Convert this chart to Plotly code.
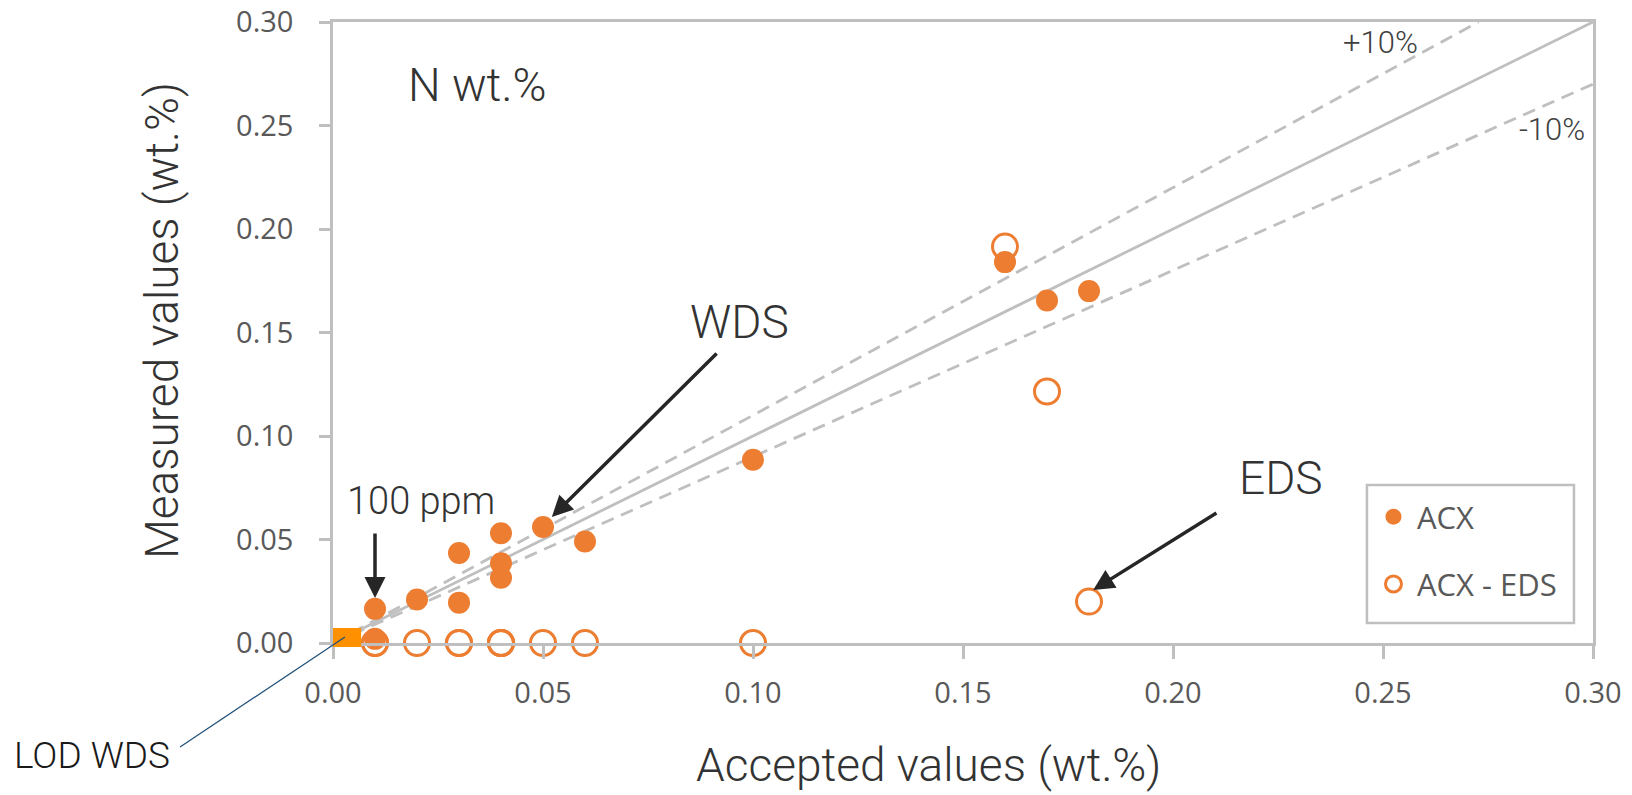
import plotly.graph_objects as go

# Nitrogen: accepted vs measured concentrations (wt.%)
acx_accepted = [0.01, 0.01, 0.02, 0.03, 0.03, 0.04, 0.04, 0.04, 0.05, 0.06, 0.10, 0.16, 0.17, 0.18]
acx_measured = [0.0165, 0.002, 0.021, 0.0435, 0.0195, 0.053, 0.0385, 0.0315, 0.056, 0.049, 0.0885, 0.184, 0.1655, 0.170]

eds_accepted = [0.01, 0.01, 0.02, 0.03, 0.03, 0.04, 0.04, 0.04, 0.05, 0.06, 0.10, 0.16, 0.17, 0.18]
eds_measured = [0.0, 0.0, 0.0, 0.0, 0.0, 0.0, 0.0, 0.0, 0.0, 0.0, 0.0, 0.1915, 0.1215, 0.020]

axis_max = 0.30
tick_vals = [0.00, 0.05, 0.10, 0.15, 0.20, 0.25, 0.30]
tick_text = ["0.00", "0.05", "0.10", "0.15", "0.20", "0.25", "0.30"]

# Reference lines: 1:1 and +/-10 %
ref_x = [0.0, axis_max]
plus_x = [0.0, axis_max / 1.1]
plus_y = [0.0, axis_max]
minus_y = [0.0, axis_max * 0.9]

# WDS detection limit box
lod_wds = 0.0067

ORANGE = "#ED7D31"
GREY = "#BFBFBF"
DARK = "#262626"
TEXT_FONT = "Roboto Light, Roboto"
TICK_FONT = "Open Sans"

fig = go.Figure()

fig.add_trace(go.Scatter(x=ref_x, y=ref_x, mode="lines",
                         line=dict(color=GREY, width=2.8), showlegend=False, hoverinfo="skip"))
fig.add_trace(go.Scatter(x=plus_x, y=plus_y, mode="lines",
                         line=dict(color=GREY, width=2.8, dash="13px,8px"), showlegend=False, hoverinfo="skip"))
fig.add_trace(go.Scatter(x=ref_x, y=minus_y, mode="lines",
                         line=dict(color=GREY, width=2.8, dash="13px,8px"), showlegend=False, hoverinfo="skip"))

fig.add_trace(go.Scatter(x=eds_accepted, y=eds_measured, mode="markers", name="ACX - EDS",
                         legendgroup="eds", legendrank=2,
                         marker=dict(symbol="circle-open", size=25, color=ORANGE, line=dict(width=3, color=ORANGE)),
                         cliponaxis=False))
fig.add_trace(go.Scatter(x=acx_accepted, y=acx_measured, mode="markers", name="ACX",
                         legendgroup="acx", legendrank=1,
                         marker=dict(symbol="circle", size=22, color=ORANGE),
                         cliponaxis=False))

# LOD box and its leader line to the label below the axes
fig.add_shape(type="rect", xref="x", yref="paper", x0=0, x1=lod_wds, y0=-0.0064, y1=0.0242,
              fillcolor="#FF9000", line=dict(width=0), layer="above")
fig.add_shape(type="line", xref="paper", yref="paper", x0=0.0095, y0=0.0097, x1=-0.1214, y1=-0.1675,
              line=dict(color="#1F4E79", width=1.2), layer="above")

# Legend frame
fig.add_shape(type="rect", xref="paper", yref="paper", x0=0.8206, x1=0.9849, y0=0.0322, y1=0.2544,
              fillcolor="white", line=dict(color=GREY, width=2.5), layer="below")

def label(text, x, y, size, color="#333333", ref="x", angle=0):
    fig.add_annotation(x=x, y=y, xref=ref if ref == "paper" else "x", yref=ref if ref == "paper" else "y",
                       xanchor="center", yanchor="middle",
                       text=text, showarrow=False, textangle=angle,
                       font=dict(family=TEXT_FONT, size=size, color=color, weight=300))

label("N wt.%", 0.0343, 0.2696, 46)
label("WDS", 0.0967, 0.155, 46)
label("EDS", 0.2257, 0.0797, 46)
label("100 ppm", 0.021, 0.0686, 38)
label("LOD WDS", -0.1913, -0.1804, 37, color="#1A1A1A", ref="paper")
label("+10%", 0.2495, 0.290, 31, color="#404040")
label("-10%", 0.2902, 0.2483, 31, color="#404040")

# Axis titles
label("Accepted values (wt.%)", 0.473, -0.1965, 46, ref="paper")
label("Measured values (wt.%)", -0.1357, 0.5185, 46, ref="paper", angle=-90)

def arrow(x_tip, y_tip, x_tail, y_tail):
    fig.add_annotation(x=x_tip, y=y_tip, ax=x_tail, ay=y_tail, xref="x", yref="y",
                       axref="x", ayref="y", text="", showarrow=True,
                       arrowhead=2, arrowsize=1.2, arrowwidth=3.5, arrowcolor=DARK)

arrow(0.01, 0.0217, 0.01, 0.0536)
arrow(0.0521, 0.0609, 0.0917, 0.1406)
arrow(0.181, 0.0256, 0.2107, 0.0633)

axis_common = dict(
    range=[0, axis_max], tickvals=tick_vals, ticktext=tick_text,
    showgrid=False, zeroline=False, automargin=False,
    showline=True, linecolor=GREY, linewidth=2.5, mirror=True,
    ticks="outside", tickcolor=GREY, tickwidth=2.5,
    tickfont=dict(family=TICK_FONT, size=29, color="#595959"),
)

fig.update_xaxes(**axis_common, ticklen=13, ticklabelstandoff=9)
fig.update_yaxes(**axis_common, ticklen=11, ticklabelstandoff=20)

fig.update_layout(
    width=1632, height=795,
    margin=dict(l=333, r=39, t=22, b=152, autoexpand=False),
    plot_bgcolor="white", paper_bgcolor="white",
    legend=dict(x=0.8230, y=0.2464, xanchor="left", yanchor="top",
                borderwidth=0, bgcolor="rgba(0,0,0,0)",
                font=dict(family=TICK_FONT, size=31, color="#595959"),
                traceorder="grouped", tracegroupgap=24, itemwidth=37),
    showlegend=True,
)

fig.write_html("out.html")
